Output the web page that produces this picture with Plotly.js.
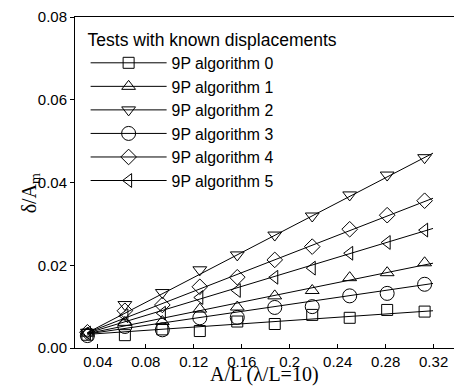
<!DOCTYPE html>
<html>
<head>
<meta charset="utf-8">
<script src="https://cdn.plot.ly/plotly-3.0.1.min.js"></script>
<style>html,body{margin:0;padding:0;background:#fff;}#chart{width:454px;height:389px;}</style>
</head>
<body>
<div id="chart"></div>
<script>
// A/L values (lambda/L = 10)
const xVals = [0.03125, 0.0625, 0.09375, 0.125, 0.15625, 0.1875, 0.21875, 0.25, 0.28125, 0.3125];

const seriesNames = ["9P algorithm 0", "9P algorithm 1", "9P algorithm 2", "9P algorithm 3", "9P algorithm 4", "9P algorithm 5"];
const seriesSymbols = ["square-open", "triangle-up-open", "triangle-down-open", "circle-open", "diamond-open", "triangle-left-open"];
const seriesSizes = [11, 12, 12, 14, 12, 12];

// measured delta/A_m
const alg0 = [0.0032, 0.0031, 0.0045, 0.0041, 0.0064, 0.0058, 0.0080, 0.0073, 0.0092, 0.0088];
const alg1 = [0.0036, 0.0062, 0.0064, 0.0094, 0.0099, 0.0126, 0.0139, 0.0170, 0.0182, 0.0206];
const alg2 = [0.0038, 0.0105, 0.0134, 0.0189, 0.0225, 0.0273, 0.0319, 0.0370, 0.0418, 0.0460];
const alg3 = [0.0030, 0.0052, 0.0044, 0.0073, 0.0074, 0.0098, 0.0100, 0.0126, 0.0132, 0.0154];
const alg4 = [0.0038, 0.0090, 0.0104, 0.0148, 0.0171, 0.0213, 0.0245, 0.0287, 0.0321, 0.0356];
const alg5 = [0.0036, 0.0078, 0.0084, 0.0122, 0.0139, 0.0171, 0.0193, 0.0229, 0.0255, 0.0285];

// fitted trend lines (start / end)
const fitX = [0.03125, 0.3195];
const fit0 = [0.0033, 0.0090];
const fit1 = [0.0035, 0.0205];
const fit2 = [0.0037, 0.0471];
const fit3 = [0.0034, 0.0156];
const fit4 = [0.0037, 0.0362];
const fit5 = [0.0036, 0.0289];

const xTickVals = [0.04, 0.08, 0.12, 0.16, 0.2, 0.24, 0.28, 0.32];
const xTickText = ["0.04", "0.08", "0.12", "0.16", "0.2", "0.24", "0.28", "0.32"];
const yTickVals = [0, 0.02, 0.04, 0.06, 0.08];
const yTickText = ["0.00", "0.02", "0.04", "0.06", "0.08"];

const xTitle = "A/L (λ/L=10)";
const yTitle = "δ/A<sub>m</sub>";

const measured = [alg0, alg1, alg2, alg3, alg4, alg5];
const fits = [fit0, fit1, fit2, fit3, fit4, fit5];

const traces = [];
for (let i = 0; i < 6; i++) {
  traces.push({
    x: fitX, y: fits[i], mode: "lines", type: "scatter",
    line: {color: "#000", width: 1}, showlegend: false, hoverinfo: "skip"
  });
}
for (let i = 0; i < 6; i++) {
  traces.push({
    x: xVals, y: measured[i], mode: "markers", type: "scatter",
    marker: {symbol: seriesSymbols[i], size: seriesSizes[i], color: "#000", line: {color: "#000", width: 1}},
    showlegend: false
  });
}
for (let i = 0; i < 6; i++) {
  traces.push({
    x: [null], y: [null], mode: "lines+markers", type: "scatter", name: seriesNames[i],
    line: {color: "#000", width: 1},
    marker: {symbol: seriesSymbols[i], size: seriesSizes[i], color: "#000", line: {color: "#000", width: 1}}
  });
}

const serif = "Liberation Serif, Times New Roman, serif";
const sans = "Liberation Sans, Arial, sans-serif";

const layout = {
  width: 454, height: 389,
  margin: {l: 75, r: 0, t: 17, b: 41, pad: 0},
  paper_bgcolor: "#fff", plot_bgcolor: "#fff",
  showlegend: true,
  legend: {
    x: 0.028, y: 0.981, xanchor: "left", yanchor: "top",
    bgcolor: "rgba(0,0,0,0)", borderwidth: 0,
    itemwidth: 76,
    font: {family: sans, size: 15.8, color: "#000"},
    title: {text: "Tests with known displacements", font: {family: sans, size: 17.5, color: "#000"}}
  },
  xaxis: {
    range: [0.0209, 0.337],
    tickvals: xTickVals, ticktext: xTickText,
    ticks: "inside", ticklen: 4, tickcolor: "#000", tickwidth: 1,
    showline: true, linecolor: "#000", linewidth: 1, mirror: true,
    showgrid: false, zeroline: false,
    tickfont: {family: sans, size: 15, color: "#000"}
  },
  yaxis: {
    range: [0, 0.08],
    tickvals: yTickVals, ticktext: yTickText,
    ticks: "outside", ticklen: 4, tickcolor: "#000", tickwidth: 1,
    showline: true, linecolor: "#000", linewidth: 1,
    showgrid: false, zeroline: false,
    tickfont: {family: sans, size: 15, color: "#000"}
  },
  annotations: [
    {text: xTitle, xref: "paper", yref: "paper", x: 0.5, y: -0.079, xanchor: "center", yanchor: "middle",
     showarrow: false, borderpad: 0, font: {family: serif, size: 20, color: "#000"}},
    {text: yTitle, xref: "paper", yref: "paper", x: -0.118, y: 0.468, xanchor: "center", yanchor: "middle",
     textangle: -90, showarrow: false, borderpad: 0, font: {family: serif, size: 20, color: "#000"}}
  ]
};

Plotly.newPlot("chart", traces, layout, {displayModeBar: false, staticPlot: true});
</script>
</body>
</html>
